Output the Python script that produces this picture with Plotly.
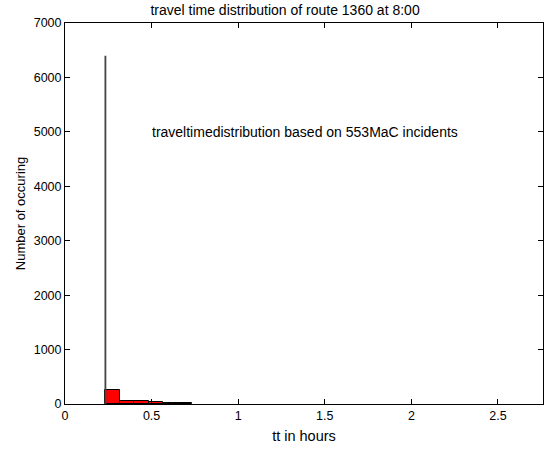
import plotly.graph_objects as go

# Data
bin_centers = [0.275, 0.3583, 0.4417, 0.525, 0.6083, 0.6917]
bin_counts = [250, 55, 55, 42, 15, 12]
bin_width = 0.0833
spike_x = 0.2333
spike_count = 6400
x_ticks = [0, 0.5, 1, 1.5, 2, 2.5]
y_ticks = [0, 1000, 2000, 3000, 4000, 5000, 6000, 7000]

fig = go.Figure()
fig.add_trace(go.Bar(
    x=bin_centers, y=bin_counts, width=[bin_width] * len(bin_centers),
    marker=dict(color="#ff0000", line=dict(color="black", width=1)),
    showlegend=False,
))
fig.add_trace(go.Scatter(
    x=[spike_x, spike_x], y=[0, spike_count], mode="lines",
    line=dict(color="#444444", width=1.8), showlegend=False,
))

fig.add_annotation(
    x=0.49, y=5000, xref="x", yref="y",
    text="traveltimedistribution based on 553MaC incidents",
    showarrow=False, xanchor="left", yanchor="middle",
    font=dict(size=14, color="black"),
)

axis_common = dict(
    showline=True, linecolor="black", linewidth=1, mirror="ticks",
    ticks="inside", ticklen=5, tickcolor="black", showgrid=False,
    zeroline=False, tickfont=dict(size=12.5, color="black"),
)

fig.update_layout(
    width=544, height=450,
    margin=dict(l=65, r=1, t=23, b=46),
    paper_bgcolor="white", plot_bgcolor="white",
    font=dict(family="Liberation Sans, Arial, sans-serif", size=12, color="black"),
    title=dict(text="travel time distribution of route 1360 at 8:00",
               x=0.524, xanchor="center", y=0.977, yanchor="middle",
               font=dict(size=14, color="black")),
    bargap=0,
    xaxis=dict(range=[0, 2.76], tickvals=x_ticks, ticktext=[str(v) for v in x_ticks],
               title=dict(text="tt in hours", standoff=8, font=dict(size=14.5)), **axis_common),
    yaxis=dict(range=[0, 7000], tickvals=y_ticks,
               title=dict(text="Number of occuring", standoff=5, font=dict(size=13)), **axis_common),
)

fig.write_html("out.html")
